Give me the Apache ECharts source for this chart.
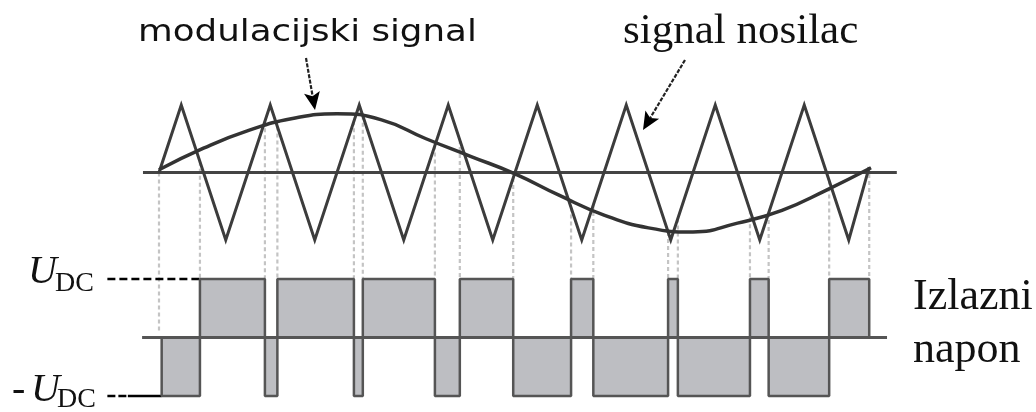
<!DOCTYPE html>
<html><head><meta charset="utf-8">
<script src="https://cdn.jsdelivr.net/npm/echarts@6/dist/echarts.min.js"></script>
<style>html,body{margin:0;padding:0;background:#fff}#c{width:1036px;height:412px}</style>
</head><body><div id="c"></div>
<script>
// time in carrier periods
const carrierT = [0,0.25,0.75,1.25,1.75,2.25,2.75,3.25,3.75,4.25,4.75,5.25,5.75,6.25,6.75,7.25,7.75,7.98];
const carrierV = [0,1,-1,1,-1,1,-1,1,-1,1,-1,1,-1,1,-1,1,-1,0.08];
const sineT = [0,0.5,1,1.5,2,2.5,3,3.5,4,4.5,5,5.5,6,6.5,7,7.5,8];
const sineV = [0.04,0.36,0.62,0.80,0.87,0.78,0.50,0.24,-0.02,-0.34,-0.63,-0.82,-0.88,-0.75,-0.56,-0.26,0.07];
const pulseEdges = [0.03,0.46,1.19,1.33,2.19,2.29,3.10,3.38,3.98,4.63,4.88,5.72,5.83,6.64,6.85,7.53,7.98];
const pulseLevels = [-1,1,-1,1,-1,1,-1,1,-1,1,-1,1,-1,1,-1,1];
const dotT = [0,0.46,1.19,1.33,2.19,2.29,3.10,3.38,3.98,4.63,4.88,5.72,5.83,6.64,6.85,7.53,7.98];
const topAxisRange = [-0.18, 8.29];
const bottomAxisRange = [-0.19, 8.18];
const refStart = -0.58;
const labelTop = 'modulacijski signal';
const labelCarrier = 'signal nosilac';
const labelOut = ['Izlazni', 'napon'];

const chart = echarts.init(document.getElementById('c'), null, {renderer: 'canvas'});

function carrierAt(t){
  for (let i = 0; i < carrierT.length - 1; i++) {
    if (t >= carrierT[i] && t <= carrierT[i+1]) {
      const f = (t - carrierT[i]) / (carrierT[i+1] - carrierT[i]);
      return carrierV[i] + f * (carrierV[i+1] - carrierV[i]);
    }
  }
  return 0;
}

const pulsePts = [[pulseEdges[0], 0]];
for (let i = 0; i < pulseLevels.length; i++) {
  pulsePts.push([pulseEdges[i], pulseLevels[i]]);
  pulsePts.push([pulseEdges[i+1], pulseLevels[i]]);
}
pulsePts.push([pulseEdges[pulseEdges.length-1], 0]);

const base = {type: 'line', symbol: 'none', clip: false, silent: true, animation: false};
const serif = '"Liberation Serif", "Times New Roman", serif';

chart.setOption({
  animation: false,
  grid: [
    {left: 96.7, width: 809.9, top: 105, height: 135},
    {left: 96.7, width: 809.9, top: 279, height: 117}
  ],
  xAxis: [
    {type: 'value', gridIndex: 0, min: -0.7, max: 8.4, show: false},
    {type: 'value', gridIndex: 1, min: -0.7, max: 8.4, show: false}
  ],
  yAxis: [
    {type: 'value', gridIndex: 0, min: -1, max: 1, show: false},
    {type: 'value', gridIndex: 1, min: -1, max: 1, show: false}
  ],
  series: [
    Object.assign({}, base, {xAxisIndex: 0, yAxisIndex: 0, z: 3,
      data: [[topAxisRange[0], 0], [topAxisRange[1], 0]],
      lineStyle: {color: '#444', width: 3}}),
    Object.assign({}, base, {xAxisIndex: 0, yAxisIndex: 0, z: 4,
      data: carrierT.map((t, i) => [t, carrierV[i]]),
      lineStyle: {color: '#3c3c3c', width: 3, join: 'miter'}}),
    Object.assign({}, base, {xAxisIndex: 0, yAxisIndex: 0, z: 5, smooth: 0.5,
      data: sineT.map((t, i) => [t, sineV[i]]),
      lineStyle: {color: '#333', width: 3.5}}),
    Object.assign({}, base, {xAxisIndex: 1, yAxisIndex: 1, z: 4,
      data: pulsePts,
      areaStyle: {color: '#bdbec2', opacity: 1},
      lineStyle: {color: '#555', width: 2.5}}),
    Object.assign({}, base, {xAxisIndex: 1, yAxisIndex: 1, z: 5,
      data: [[bottomAxisRange[0], 0], [bottomAxisRange[1], 0]],
      lineStyle: {color: '#555', width: 3}}),
    Object.assign({}, base, {xAxisIndex: 1, yAxisIndex: 1, z: 3,
      data: [[refStart, 1], [pulseEdges[1], 1]],
      lineStyle: {color: '#000', width: 2.5, type: [8, 4]}}),
    Object.assign({}, base, {xAxisIndex: 1, yAxisIndex: 1, z: 3,
      data: [[refStart, -1], [-0.35, -1]],
      lineStyle: {color: '#000', width: 2.5, type: [8, 3]}}),
    Object.assign({}, base, {xAxisIndex: 1, yAxisIndex: 1, z: 3,
      data: [[-0.35, -1], [pulseEdges[0], -1]],
      lineStyle: {color: '#000', width: 2.5}})
  ]
});

// dotted projection lines
const g = [];
dotT.forEach((t, i) => {
  const p1 = chart.convertToPixel({xAxisIndex: 0, yAxisIndex: 0}, [t, carrierAt(t)]);
  const p2 = chart.convertToPixel({xAxisIndex: 1, yAxisIndex: 1}, [t, i === 0 ? 0.12 : 1]);
  g.push({type: 'line', z: 1, silent: true,
    shape: {x1: p1[0], y1: p1[1], x2: p2[0], y2: p2[1]},
    style: {stroke: '#c4c4c4', lineWidth: 2.2, lineDash: [4, 3]}});
});

// arrows
function arrow(x1, y1, x2, y2) {
  const dx = x2 - x1, dy = y2 - y1, L = Math.hypot(dx, dy);
  const ux = dx / L, uy = dy / L, hl = 18, hw = 8;
  const bx = x2 - ux * hl, by = y2 - uy * hl;
  g.push({type: 'line', z: 10, silent: true,
    shape: {x1: x1, y1: y1, x2: bx + ux * 4, y2: by + uy * 4},
    style: {stroke: '#222', lineWidth: 2.2, lineDash: [4, 1.5]}});
  g.push({type: 'polygon', z: 10, silent: true,
    shape: {points: [[x2, y2], [bx - uy * hw, by + ux * hw], [bx + ux * 4, by + uy * 4], [bx + uy * hw, by - ux * hw]]},
    style: {fill: '#000'}});
}
arrow(306, 58, 315, 110);
arrow(685, 60, 643, 130);

function txt(s, x, y, font, extra, scaleX) {
  g.push({type: 'text', z: 10, silent: true, x: x, y: y, scaleX: scaleX || 1,
    style: Object.assign({text: s, font: font, fill: '#111', textAlign: 'left', textVerticalAlign: 'middle', verticalAlign: 'middle'}, extra || {})});
}
txt(labelTop, 138, 33, '31px "DejaVu Sans", sans-serif', null, 1.15);
txt(labelCarrier, 623, 32, '43px ' + serif);
txt('U', 28, 272, 'italic 40px ' + serif);
txt('DC', 55, 284, '28px ' + serif);
txt('-', 12, 390, '40px ' + serif);
txt('U', 31, 390, 'italic 40px ' + serif);
txt('DC', 57, 400, '28px ' + serif);
txt(labelOut[0], 913, 297, '44px ' + serif);
txt(labelOut[1], 913, 350, '44px ' + serif);

chart.setOption({graphic: {elements: g}});
</script></body></html>
